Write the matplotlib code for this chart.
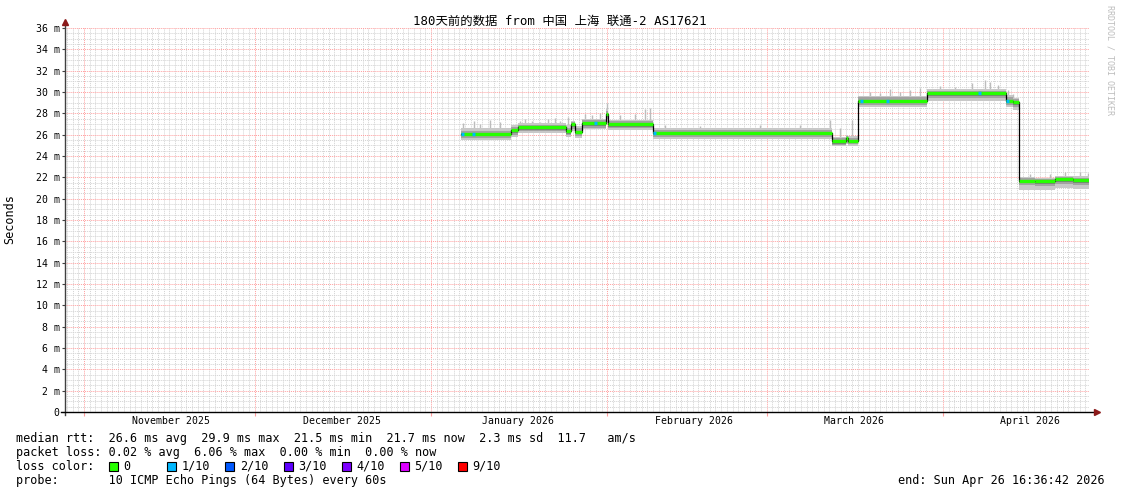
import matplotlib
matplotlib.use('Agg')
import matplotlib.pyplot as plt
import matplotlib.dates as mdates
import matplotlib.transforms as mtransforms
from matplotlib.ticker import MultipleLocator
from matplotlib.patches import Rectangle
import numpy as np

MONO = 'DejaVu Sans Mono'
TITLE_FONTS = ['DejaVu Sans Mono', 'Noto Sans CJK SC']

# graph window: 180 days up to the end stamp
t_start = np.datetime64('2025-10-28T16:36:42')
t_end = np.datetime64('2026-04-26T16:36:42')

# median rtt in ms, drawn as steps (value holds until next time)
step_times = ['2026-01-06T05:00', '2026-01-15T01:30', '2026-01-16T07:00', '2026-01-24T17:30',
              '2026-01-25T14:40', '2026-01-26T07:30', '2026-01-27T13:00', '2026-01-31T18:15',
              '2026-02-01T02:40', '2026-02-09T00:30', '2026-03-12T10:20', '2026-03-14T22:50',
              '2026-03-15T07:00', '2026-03-17T02:40', '2026-03-29T03:00', '2026-04-12T00:00',
              '2026-04-13T06:00', '2026-04-14T08:40', '2026-04-17T04:00', '2026-04-20T16:30',
              '2026-04-23T20:30']
step_median = [26.09, 26.40, 26.72, 26.35, 26.97, 26.28, 27.06, 27.90,
               27.00, 26.19, 25.40, 25.66, 25.45, 29.19, 29.87, 29.20,
               29.03, 21.70, 21.62, 21.80, 21.75]
# spread of the 10 pings (smoke) around the median
band_lo = [25.50, 25.80, 26.15, 25.80, 26.30, 25.70, 26.50, 27.10,
           26.45, 25.55, 24.90, 25.10, 24.95, 28.55, 29.15, 28.55,
           28.30, 20.80, 20.80, 21.00, 20.95]
band_hi = [26.65, 26.90, 27.05, 26.90, 27.30, 26.80, 27.45, 28.40,
           27.40, 26.60, 25.80, 26.00, 25.85, 29.65, 30.25, 29.70,
           29.45, 22.05, 21.95, 22.15, 22.10]

# single high pings sticking out of the smoke
spike_times = ['2026-01-06T15:00', '2026-01-08T13:30', '2026-01-09T14:40', '2026-01-11T09:00',
               '2026-01-13T03:00', '2026-01-16T15:30', '2026-01-17T12:30', '2026-01-18T18:00',
               '2026-01-20T04:00', '2026-01-21T13:40', '2026-01-22T19:00', '2026-01-23T16:20',
               '2026-01-25T02:00', '2026-01-28T01:40', '2026-01-29T07:00', '2026-01-30T17:00',
               '2026-01-31T20:30', '2026-02-03T05:20', '2026-02-05T20:40', '2026-02-07T15:00',
               '2026-02-08T12:00', '2026-02-11T03:00', '2026-02-17T07:00', '2026-02-27T20:00',
               '2026-03-06T20:40', '2026-03-12T03:20', '2026-03-13T21:40', '2026-03-16T00:00',
               '2026-03-19T04:00', '2026-03-20T22:20', '2026-03-22T16:20', '2026-03-24T10:30',
               '2026-03-26T04:50', '2026-03-27T23:00', '2026-03-31T11:20', '2026-04-03T02:40',
               '2026-04-06T02:20', '2026-04-08T09:00', '2026-04-09T06:20', '2026-04-10T16:00',
               '2026-04-12T10:00', '2026-04-13T07:00', '2026-04-16T07:00', '2026-04-19T19:00',
               '2026-04-22T10:30', '2026-04-25T02:00', '2026-04-26T11:50']
spike_top = [27.1, 27.3, 27.0, 27.4, 27.2, 27.3, 27.5, 27.3,
             27.2, 27.5, 27.6, 27.3, 27.7, 27.9, 27.8, 28.0,
             29.0, 27.8, 27.9, 28.4, 28.5, 26.9, 26.8, 26.9,
             26.9, 27.4, 26.6, 27.4, 30.0, 29.9, 30.3, 30.0,
             30.2, 30.4, 30.6, 30.5, 30.8, 31.1, 30.9, 30.7,
             30.2, 29.8, 22.3, 22.3, 22.5, 22.5, 22.4]

# steps with 1/10 packet loss
loss_times = ['2026-01-06T06:00', '2026-01-08T05:00', '2026-01-29T15:40', '2026-02-09T00:30',
              '2026-03-17T09:00', '2026-03-21T23:30', '2026-04-07T03:40', '2026-04-12T01:40']

month_starts = ['2025-11-01', '2025-12-01', '2026-01-01', '2026-02-01', '2026-03-01', '2026-04-01']
month_labels = ['November 2025', 'December 2025', 'January 2026',
                'February 2026', 'March 2026', 'April 2026']

loss_names = ['0', '1/10', '2/10', '3/10', '4/10', '5/10', '9/10']
loss_colors = ['#26ff00', '#00b8ff', '#0059ff', '#5e00ff', '#7e00ff', '#dd00ff', '#ff0000']

title = '180天前的数据 from 中国 上海 联通-2 AS17621'
legend_lines = [
    'median rtt:  26.6 ms avg  29.9 ms max  21.5 ms min  21.7 ms now  2.3 ms sd  11.7   am/s',
    'packet loss: 0.02 % avg  6.06 % max  0.00 % min  0.00 % now',
    'loss color:',
    'probe:       10 ICMP Echo Pings (64 Bytes) every 60s',
]
end_text = 'end: Sun Apr 26 16:36:42 2026'


def main():
    W, H = 1121, 494
    fig = plt.figure(figsize=(W / 100, H / 100), dpi=100)
    fig.patch.set_facecolor('white')
    ax = fig.add_axes([65.2 / W, (H - 412) / H, 1024 / W, 384 / H])

    t = np.array(step_times, dtype='datetime64[s]')
    med = np.array(step_median)
    lo = np.array(band_lo)
    hi = np.array(band_hi)
    tx = np.append(t, t_end)

    def ext(a):
        return np.append(a, a[-1])

    # spikes first, the smoke covers their base
    st = np.array(spike_times, dtype='datetime64[s]')
    idx = np.searchsorted(t, st, side='right') - 1
    ax.vlines(st, med[idx], spike_top, color='#bcbcbc', lw=1.0, zorder=2)

    # smoke layers
    ax.fill_between(tx, ext(lo), ext(hi), step='post', color='#c8c8c8', lw=0, zorder=3)
    mid_lo = np.maximum(lo + 0.15, med - 0.45)
    mid_hi = np.minimum(hi - 0.12, med + 0.3)
    ax.fill_between(tx, ext(mid_lo), ext(mid_hi), step='post', color='#a2a2a2', lw=0, zorder=4)
    ax.fill_between(tx, ext(med - 0.25), ext(med + 0.06), step='post', color='#7c7c7c', lw=0, zorder=5)

    # median line: black joins, green where no loss
    ax.step(tx, ext(med), where='post', color='black', lw=0.9, zorder=6)
    ax.hlines(med, t, tx[1:], color=loss_colors[0], lw=2.4, zorder=7)
    lt = np.array(loss_times, dtype='datetime64[s]')
    li = np.searchsorted(t, lt, side='right') - 1
    ax.hlines(med[li], lt, lt + np.timedelta64(12, 'h'), color=loss_colors[1], lw=2.4, zorder=8)

    ax.set_xlim(t_start, t_end)
    ax.set_ylim(0, 36)

    # grid
    ax.yaxis.set_major_locator(MultipleLocator(2))
    ax.yaxis.set_minor_locator(MultipleLocator(0.5))
    ax.xaxis.set_major_locator(mdates.MonthLocator())
    ax.xaxis.set_minor_locator(mdates.DayLocator())
    ax.grid(which='minor', color='#d2d2d2', lw=0.7, ls=(0, (1, 1)))
    ax.grid(which='major', color='#ff9e9e', lw=0.7, ls=(0, (1, 1)))
    ax.set_axisbelow(True)

    ax.set_yticks(range(0, 37, 2))
    ax.set_yticklabels(['0'] + ['%d m' % v for v in range(2, 37, 2)],
                       family=MONO, fontsize=7.1)
    ax.tick_params(axis='y', which='major', length=2, pad=2, color='#404040')
    ax.tick_params(axis='y', which='minor', length=0)
    ax.tick_params(axis='x', which='major', length=3, color='#ff9e9e', labelbottom=False)
    ax.tick_params(axis='x', which='minor', length=0)

    for s in ax.spines.values():
        s.set_visible(False)

    # axis lines with arrow heads
    ax.plot([0, 0], [-0.008, 1.012], transform=ax.transAxes, color='#404040', lw=1, clip_on=False)
    ax.plot([-0.004, 1.0065], [0, 0], transform=ax.transAxes, color='black', lw=1, clip_on=False)
    ax.plot([0], [1.015], transform=ax.transAxes, marker='^', ms=5, color='#8b1a1a', clip_on=False)
    ax.plot([1.0075], [0], transform=ax.transAxes, marker='>', ms=5, color='#8b1a1a', clip_on=False)

    # month labels in the middle of each month
    trans = mtransforms.blended_transform_factory(ax.transData, ax.transAxes)
    for m, lab in zip(month_starts, month_labels):
        mid = np.datetime64(m + 'T00:00') + np.timedelta64(367, 'h')
        ax.text(mid, -0.0234, lab, transform=trans, ha='center', va='center',
                family=MONO, fontsize=7.1)

    fig.text(560 / W, 1 - 21 / H, title, ha='center', va='center',
             family=TITLE_FONTS, fontsize=8.9)
    fig.text(10 / W, 1 - 219 / H, 'Seconds', rotation=90, ha='center', va='center',
             family=MONO, fontsize=8.5)
    fig.text(1110 / W, 1 - 60 / H, 'RRDTOOL / TOBI OETIKER', rotation=270, ha='center',
             va='center', family=MONO, fontsize=6, color='#bdbdbd')

    # legend block
    for i, line in enumerate(legend_lines):
        fig.text(16 / W, 1 - (438 + 14 * i) / H, line, ha='left', va='center',
                 family=MONO, fontsize=8.5)
    for i, (name, col) in enumerate(zip(loss_names, loss_colors)):
        x0 = 109 + 58.2 * i
        fig.patches.append(Rectangle((x0 / W, 1 - 471 / H), 9 / W, 9 / H, transform=fig.transFigure,
                                     facecolor=col, edgecolor='black', lw=0.8))
        fig.text((x0 + 14.5) / W, 1 - 466 / H, name, ha='left', va='center',
                 family=MONO, fontsize=8.5)
    fig.text(1105 / W, 1 - 480 / H, end_text, ha='right', va='center', family=MONO, fontsize=8.5)

    fig.savefig('out.png', dpi=100)


if __name__ == '__main__':
    main()
